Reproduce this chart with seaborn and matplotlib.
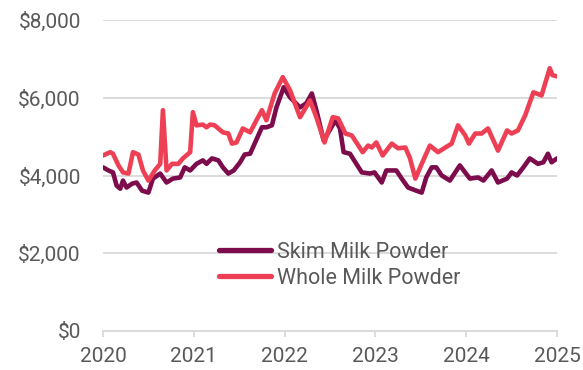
import pandas as pd
import numpy as np
import seaborn as sns
import matplotlib.pyplot as plt
from matplotlib.ticker import FuncFormatter

# fractional-year dates and prices (USD/t)
smp_dates = [2020.00, 2020.06, 2020.11, 2020.15, 2020.19, 2020.22, 2020.26, 2020.32, 2020.37, 2020.43,
             2020.50, 2020.55, 2020.63, 2020.70, 2020.77, 2020.85, 2020.90, 2020.96, 2021.03, 2021.10,
             2021.14, 2021.20, 2021.27, 2021.32, 2021.38, 2021.44, 2021.51, 2021.56, 2021.62, 2021.67,
             2021.75, 2021.80, 2021.86, 2021.91, 2021.99, 2022.06, 2022.17, 2022.24, 2022.30, 2022.35,
             2022.43, 2022.56, 2022.61, 2022.65, 2022.72, 2022.79, 2022.85, 2022.94, 2022.99, 2023.07,
             2023.12, 2023.23, 2023.29, 2023.36, 2023.45, 2023.51, 2023.56, 2023.62, 2023.67, 2023.73,
             2023.82, 2023.93, 2024.04, 2024.13, 2024.19, 2024.28, 2024.35, 2024.45, 2024.50, 2024.56,
             2024.63, 2024.70, 2024.79, 2024.85, 2024.90, 2024.94, 2025.00]
smp_price = [4210, 4130, 4080, 3740, 3660, 3870, 3690, 3790, 3820, 3610,
             3560, 3920, 4050, 3820, 3920, 3950, 4210, 4130, 4300, 4390,
             4300, 4440, 4390, 4210, 4050, 4130, 4340, 4540, 4560, 4820,
             5240, 5240, 5290, 5750, 6270, 6010, 5750, 5860, 6110, 5680,
             4900, 5420, 5210, 4600, 4560, 4300, 4080, 4050, 4080, 3820,
             4130, 4130, 3920, 3690, 3610, 3560, 3950, 4210, 4210, 4000,
             3870, 4260, 3920, 3950, 3870, 4130, 3820, 3920, 4080, 4000,
             4210, 4440, 4300, 4340, 4560, 4340, 4440]

wmp_dates = [2020.00, 2020.08, 2020.11, 2020.17, 2020.22, 2020.28, 2020.33, 2020.39, 2020.44, 2020.50,
             2020.57, 2020.63, 2020.66, 2020.70, 2020.76, 2020.83, 2020.88, 2020.96, 2020.99, 2021.03,
             2021.10, 2021.14, 2021.18, 2021.23, 2021.32, 2021.38, 2021.42, 2021.47, 2021.54, 2021.62,
             2021.69, 2021.75, 2021.80, 2021.89, 2021.98, 2022.06, 2022.17, 2022.28, 2022.35, 2022.44,
             2022.53, 2022.59, 2022.67, 2022.74, 2022.86, 2022.92, 2022.96, 2023.01, 2023.08, 2023.18,
             2023.25, 2023.33, 2023.38, 2023.44, 2023.51, 2023.60, 2023.69, 2023.77, 2023.84, 2023.91,
             2023.99, 2024.03, 2024.10, 2024.17, 2024.24, 2024.30, 2024.35, 2024.45, 2024.50, 2024.57,
             2024.65, 2024.74, 2024.83, 2024.92, 2024.95, 2025.00]
wmp_price = [4515, 4600, 4560, 4260, 4080, 4050, 4600, 4540, 4130, 3870,
             4130, 4300, 5680, 4130, 4300, 4300, 4440, 4600, 5630, 5290,
             5310, 5240, 5310, 5290, 5110, 5080, 4820, 4850, 5210, 5110,
             5420, 5680, 5420, 6110, 6530, 6190, 5500, 5930, 5500, 4850,
             5500, 5470, 5080, 5030, 4600, 4770, 4720, 4850, 4515, 4820,
             4700, 4720, 4450, 3920, 4300, 4770, 4600, 4720, 4820, 5290,
             5030, 4820, 5080, 5080, 5210, 4900, 4640, 5160, 5080, 5160,
             5550, 6140, 6060, 6760, 6580, 6550]

years = [2020, 2021, 2022, 2023, 2024, 2025]
yticks = [0, 2000, 4000, 6000, 8000]

df = pd.concat([
    pd.DataFrame({'date': smp_dates, 'price': smp_price, 'product': 'Skim Milk Powder'}),
    pd.DataFrame({'date': wmp_dates, 'price': wmp_price, 'product': 'Whole Milk Powder'}),
])

sns.set_style('white')
plt.rcParams['font.family'] = ['Roboto', 'DejaVu Sans']

fig = plt.figure(figsize=(5.83, 3.70), dpi=100)
ax = fig.add_axes([103 / 583, 39 / 370, 454 / 583, 311 / 370])

sns.lineplot(data=df, x='date', y='price', hue='product',
             palette={'Skim Milk Powder': '#7D0C4C', 'Whole Milk Powder': '#EE4055'},
             linewidth=3.3, ax=ax, estimator=None, sort=False)

ax.set_xlim(2020, 2025)
ax.set_ylim(0, 8000)
ax.set_xticks(years)
ax.set_xticklabels([str(y) for y in years])
ax.set_yticks(yticks)
ax.yaxis.set_major_formatter(FuncFormatter(lambda v, p: '${:,.0f}'.format(v)))
ax.grid(axis='y', color='#D9D9D9', linewidth=1.3)
ax.set_axisbelow(True)
for s in ['top', 'right', 'left']:
    ax.spines[s].set_visible(False)
ax.spines['bottom'].set_color('#D9D9D9')
ax.spines['bottom'].set_linewidth(1.3)
ax.tick_params(axis='x', length=4.5, width=1.3, color='#D9D9D9', labelsize=15,
               labelcolor='#595959', pad=7, bottom=True)
ax.tick_params(axis='y', length=0, labelsize=15, labelcolor='#595959', pad=16)
ax.set_xlabel('')
ax.set_ylabel('')

leg = ax.legend(loc='upper left', bbox_to_anchor=(0.232, 0.322), frameon=False, borderpad=0,
                fontsize=15.5, handlelength=2.4, handletextpad=0.3, labelspacing=0.25)
for line in leg.get_lines():
    line.set_linewidth(3.8)
    line.set_solid_capstyle('round')
for t in leg.get_texts():
    t.set_color('#595959')

fig.savefig('out.png', dpi=100)
